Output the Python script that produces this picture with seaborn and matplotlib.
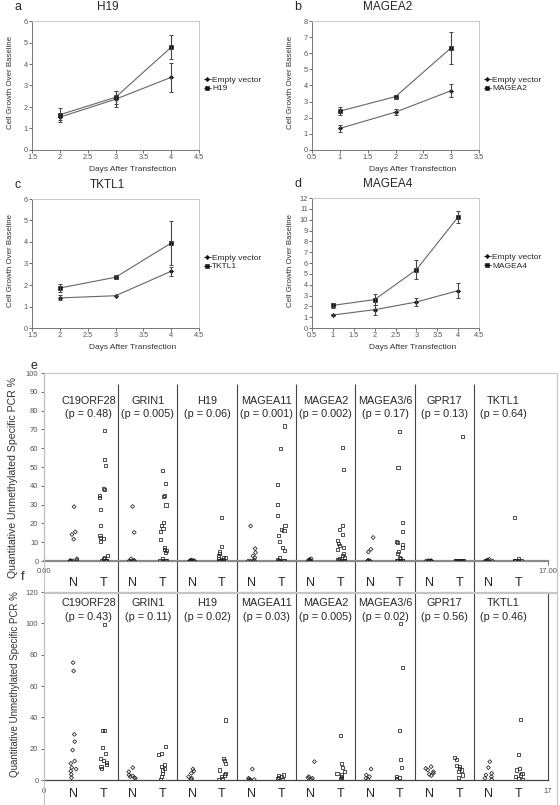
import numpy as np
import pandas as pd
import matplotlib
matplotlib.use("Agg")
import matplotlib.pyplot as plt
import seaborn as sns
from matplotlib.patches import Rectangle

# --- growth curves (panels a-d) ---
A_DAYS = [2, 3, 4]
A_EMPTY = [1.53, 2.36, 3.38]
A_EMPTY_ERR = [0.15, 0.37, 0.68]
A_GENE = [1.64, 2.45, 4.78]
A_GENE_ERR = [0.33, 0.30, 0.55]

B_DAYS = [1, 2, 3]
B_EMPTY = [1.34, 2.35, 3.68]
B_EMPTY_ERR = [0.20, 0.20, 0.42]
B_GENE = [2.41, 3.31, 6.34]
B_GENE_ERR = [0.25, 0.10, 1.00]

C_DAYS = [2, 3, 4]
C_EMPTY = [1.40, 1.50, 2.64]
C_EMPTY_ERR = [0.12, 0.03, 0.22]
C_GENE = [1.86, 2.36, 3.95]
C_GENE_ERR = [0.20, 0.07, 1.02]

D_DAYS = [1, 2, 3, 4]
D_EMPTY = [1.20, 1.69, 2.40, 3.45]
D_EMPTY_ERR = [0.05, 0.45, 0.35, 0.70]
D_GENE = [2.09, 2.62, 5.38, 10.25]
D_GENE_ERR = [0.25, 0.50, 0.90, 0.55]

# --- methylation strip charts (panels e, f) ---
GENES = ["C19ORF28", "GRIN1", "H19", "MAGEA11", "MAGEA2", "MAGEA3/6", "GPR17", "TKTL1"]
E_PVALS = ["0.48", "0.005", "0.06", "0.001", "0.002", "0.17", "0.13", "0.64"]
F_PVALS = ["0.43", "0.11", "0.02", "0.03", "0.005", "0.02", "0.56", "0.46"]

E_NORMAL = [
    [28.9, 15.5, 14.1, 11.6, 1.2, 0.4, 0.2, 0, 0, 0, 0],
    [29.0, 15.2, 1.2, 0.3, 0, 0, 0, 0],
    [0.5, 0.3, 0.2, 0.1, 0, 0, 0, 0, 0],
    [18.6, 6.6, 4.5, 2.7, 1.8, 0.4, 0, 0, 0],
    [1.2, 0.8, 0.5, 0.3, 0, 0, 0, 0],
    [12.5, 6.2, 4.8, 0.4, 0, 0, 0, 0],
    [0, 0, 0, 0, 0, 0, 0, 0, 0, 0],
    [0.9, 0.5, 0.3, 0, 0, 0, 0],
]
E_TUMOR = [
    [69.5, 54.0, 51.0, 38.8, 37.9, 35.0, 33.8, 27.5, 19.0, 13.4, 12.3, 12.0, 10.2,
     3.0, 2.0, 1.2, 0.4, 0, 0, 0, 0],
    [48.2, 41.4, 34.8, 34.3, 29.8, 20.5, 19.0, 17.3, 15.5, 11.6, 7.0, 6.2, 5.7, 4.5,
     1.2, 0.4, 0, 0, 0],
    [23.0, 7.5, 4.8, 3.9, 3.0, 2.1, 1.6, 1.2, 0.7, 0.4, 0.2, 0, 0, 0, 0, 0],
    [71.8, 59.8, 40.5, 30.2, 24.0, 19.1, 16.8, 16.3, 13.8, 10.2, 7.1, 5.7, 1.6, 0.9,
     0.4, 0, 0, 0],
    [60.5, 48.6, 19.1, 16.8, 14.1, 11.1, 9.3, 8.4, 7.0, 6.2, 3.9, 2.7, 2.1, 1.2, 0.6,
     0.3, 0, 0, 0],
    [68.8, 49.8, 20.5, 15.5, 10.5, 9.8, 8.8, 7.0, 5.2, 3.9, 2.1, 1.2, 0.4, 0, 0, 0, 0],
    [66.3, 0, 0, 0, 0, 0, 0, 0, 0, 0, 0, 0, 0, 0, 0],
    [23.0, 1.2, 0.5, 0.2, 0, 0, 0, 0, 0, 0],
]
F_NORMAL = [
    [74.9, 69.6, 29.1, 24.5, 19.1, 12.1, 10.6, 7.9, 7.0, 5.7, 3.6, 1.5],
    [7.9, 5.3, 3.2, 2.6, 2.1, 1.5, 1.1],
    [7.0, 5.7, 4.3, 2.1, 1.1, 0.4],
    [7.0, 1.1, 0.6, 0.3, 0.1, 0],
    [11.7, 2.1, 1.5, 1.1, 0.3],
    [7.0, 3.2, 2.1, 1.1, 0.3],
    [8.5, 7.4, 6.4, 5.3, 4.3, 3.6, 2.8],
    [11.7, 7.9, 4.3, 3.2, 2.1, 1.1, 0.3],
]
F_TUMOR = [
    [99.4, 31.5, 31.3, 20.6, 16.8, 13.8, 12.3, 11.1, 9.6, 8.5, 7.4],
    [21.3, 17.0, 16.4, 10.0, 8.5, 7.4, 6.4, 4.3, 2.1, 0.4],
    [38.3, 13.8, 12.3, 10.6, 6.4, 4.3, 3.2, 2.1, 1.1, 0.4],
    [3.2, 2.6, 2.1, 1.5, 1.1, 0.6],
    [28.3, 10.6, 7.9, 5.3, 4.3, 3.2, 2.1, 1.5, 1.1],
    [100.0, 71.7, 31.5, 13.2, 7.9, 2.1, 1.5, 1.1, 0.6],
    [14.5, 12.8, 9.1, 8.5, 7.4, 6.4, 5.3, 3.2, 1.5],
    [38.7, 16.0, 7.4, 6.4, 4.3, 3.2, 2.1, 1.1, 0.3],
]

W, H = 560, 805
sns.set_style("white")
plt.rcParams["font.family"] = ["Liberation Sans", "DejaVu Sans"]
np.random.seed(3)

fig = plt.figure(figsize=(W / 100, H / 100), dpi=100)


def px_axes(x0, y0, x1, y1):
    return fig.add_axes([x0 / W, 1 - y1 / H, (x1 - x0) / W, (y1 - y0) / H])


def ftext(x, y, s, **kw):
    fig.text(x / W, 1 - y / H, s, **kw)


def growth_panel(rect, letter, title, days, empty, empty_err, gene, gene_err,
                 ymax, xlo, xhi):
    ax = px_axes(*rect)
    n = len(days)
    df = pd.DataFrame({
        "day": days + days,
        "growth": empty + gene,
        "err": empty_err + gene_err,
        "series": ["Empty vector"] * n + [title] * n,
    })
    for name, mk, ms in [("Empty vector", "D", 2.2), (title, "s", 2.8)]:
        sub = df[df["series"] == name]
        sns.lineplot(data=sub, x="day", y="growth", marker=mk, markersize=ms,
                     color="#666666", lw=0.8, errorbar=None, label=name, ax=ax,
                     markerfacecolor="#111111", markeredgecolor="#111111",
                     markeredgewidth=0.4)
        ax.errorbar(sub["day"], sub["growth"], yerr=sub["err"], fmt="none",
                    ecolor="#444444", elinewidth=0.8, capsize=1.3, capthick=0.7)
    ax.set_xlim(xlo, xhi)
    ax.set_ylim(0, ymax)
    xt = np.arange(xlo, xhi + 0.01, 0.5)
    ax.set_xticks(xt)
    ax.set_xticklabels([f"{v:g}" for v in xt])
    ax.set_yticks(range(0, ymax + 1))
    ax.tick_params(labelsize=5.3, colors="#555555", length=2, pad=1, width=0.6,
                   direction="out")
    ax.tick_params(axis="both", which="both", left=True, bottom=True)
    for side in ["top", "right"]:
        ax.spines[side].set_color("#c8c8c8")
        ax.spines[side].set_linewidth(0.7)
    for side in ["left", "bottom"]:
        ax.spines[side].set_color("#777777")
        ax.spines[side].set_linewidth(0.7)
    ax.set_xlabel("Days After Transfection", fontsize=6, color="#333333")
    ax.set_ylabel("Cell Growth Over Baseline", fontsize=5.7, color="#333333")
    ax.xaxis.set_label_coords(0.60, -0.125)
    ax.yaxis.set_label_coords(-0.11, 0.52)
    ax.legend(loc="center left", bbox_to_anchor=(1.03, 0.51), frameon=False,
              fontsize=6, handlelength=0.8, handletextpad=0.2, labelspacing=0.1,
              borderaxespad=0, borderpad=0)
    x0, y0 = rect[0], rect[1]
    ftext(x0 - 14, y0 - 14, letter, fontsize=9, ha="center", va="center")
    ftext((rect[0] + rect[2]) / 2 - 8, y0 - 14, title, fontsize=8.5,
          ha="center", va="center")
    return ax


growth_panel((32, 21, 199, 150), "a", "H19", A_DAYS, A_EMPTY, A_EMPTY_ERR,
             A_GENE, A_GENE_ERR, 6, 1.5, 4.5)
growth_panel((312, 21, 479, 150), "b", "MAGEA2", B_DAYS, B_EMPTY, B_EMPTY_ERR,
             B_GENE, B_GENE_ERR, 8, 0.5, 3.5)
growth_panel((32, 199, 199, 328), "c", "TKTL1", C_DAYS, C_EMPTY, C_EMPTY_ERR,
             C_GENE, C_GENE_ERR, 6, 1.5, 4.5)
growth_panel((312, 198, 479, 328), "d", "MAGEA4", D_DAYS, D_EMPTY, D_EMPTY_ERR,
             D_GENE, D_GENE_ERR, 12, 0.5, 4.5)


def strip_panel(rect, normal, tumor, pvals, ymax, ystep, sep_lo, sep_hi,
                label_y, gene_y, p_y):
    ax = px_axes(*rect)
    rows = []
    for i, gene in enumerate(GENES):
        rows += [(gene, "N", 2 * i + 1, v) for v in normal[i]]
        rows += [(gene, "T", 2 * i + 2, v) for v in tumor[i]]
    df = pd.DataFrame(rows, columns=["gene", "group", "pos", "value"])
    for grp, mk, sz in [("N", "D", 2.0), ("T", "s", 2.2)]:
        sns.stripplot(data=df[df["group"] == grp], x="pos", y="value",
                      native_scale=True, jitter=0.07, marker=mk, size=sz,
                      color="#222222", edgecolor="#222222", linewidth=0.55,
                      orient="x", ax=ax, zorder=3)
    # open markers, as in the original
    for coll in ax.collections:
        coll.set_facecolor("none")
    ax.set_xlim(0, 17)
    ax.set_ylim(0, ymax)
    ax.set_xlabel("")
    ax.set_ylabel("")
    ax.set_yticks(range(0, ymax + 1, ystep))
    ax.vlines(np.arange(2.5, 15, 2), sep_lo, sep_hi, colors="#444444", lw=0.8,
              clip_on=False, zorder=2)
    for i, gene in enumerate(GENES):
        ax.text(2 * i + 1, label_y, "N", ha="center", va="center", fontsize=9,
                clip_on=False)
        ax.text(2 * i + 2, label_y, "T", ha="center", va="center", fontsize=9,
                clip_on=False)
        ax.text(2 * i + 1.5, gene_y, gene, ha="center", va="center",
                fontsize=7.8)
        ax.text(2 * i + 1.5, p_y, f"(p = {pvals[i]})", ha="center",
                va="center", fontsize=7.8)
    ax.tick_params(axis="y", labelsize=5.5, colors="#555555", length=2.5,
                   pad=1.5, width=0.6, left=True)
    ax.spines["left"].set_color("#555555")
    ax.spines["left"].set_linewidth(0.8)
    return ax


# panel e
ax_e = strip_panel((44, 373, 548, 561), E_NORMAL, E_TUMOR, E_PVALS, 100, 10,
                   -17, 94, -11.7, 85, 78)
ax_e.set_xticks([0, 17])
ax_e.set_xticklabels(["0.00", "17.00"])
ax_e.tick_params(axis="x", labelsize=5.5, colors="#555555", length=3, pad=2,
                 width=0.6, bottom=True)
ax_e.spines["bottom"].set_color("#8a8a8a")
ax_e.spines["bottom"].set_linewidth(1.6)
ax_e.spines["top"].set_visible(False)
ax_e.spines["right"].set_visible(False)
fig.add_artist(Rectangle((44 / W, 1 - 593 / H), (557 - 44) / W, (593 - 373) / H,
                         transform=fig.transFigure, fill=False, ec="#c4c4c4",
                         lw=0.8))

# panel f
ax_f = strip_panel((44, 592, 548, 780), F_NORMAL, F_TUMOR, F_PVALS, 120, 20,
                   0, 120, -8.9, 113, 104)
ax_f.set_xticks([0, 17])
ax_f.set_xticklabels(["0", "17"])
ax_f.tick_params(axis="x", labelsize=5.5, colors="#555555", length=0, pad=6)
ax_f.spines["bottom"].set_color("#444444")
ax_f.spines["bottom"].set_linewidth(0.9)
ax_f.spines["right"].set_color("#444444")
ax_f.spines["right"].set_linewidth(0.8)
ax_f.spines["top"].set_color("#c4c4c4")
ax_f.spines["top"].set_linewidth(0.8)
fig.add_artist(Rectangle((44 / W, -0.02), (557 - 44) / W, 0.02 + (805 - 592) / H,
                         transform=fig.transFigure, fill=False, ec="#c4c4c4",
                         lw=0.8))

ytitle = "Quantitative Unmethylated Specific PCR %"
ftext(13, 477, ytitle, rotation=90, ha="center", va="center", fontsize=7.6,
      color="#333333")
ftext(15, 684, ytitle, rotation=90, ha="center", va="center", fontsize=7.0,
      color="#333333")
ftext(34, 366, "e", fontsize=9, ha="center", va="center")
ftext(23, 577, "f", fontsize=9, ha="center", va="center")

fig.savefig("out.png", dpi=100)
